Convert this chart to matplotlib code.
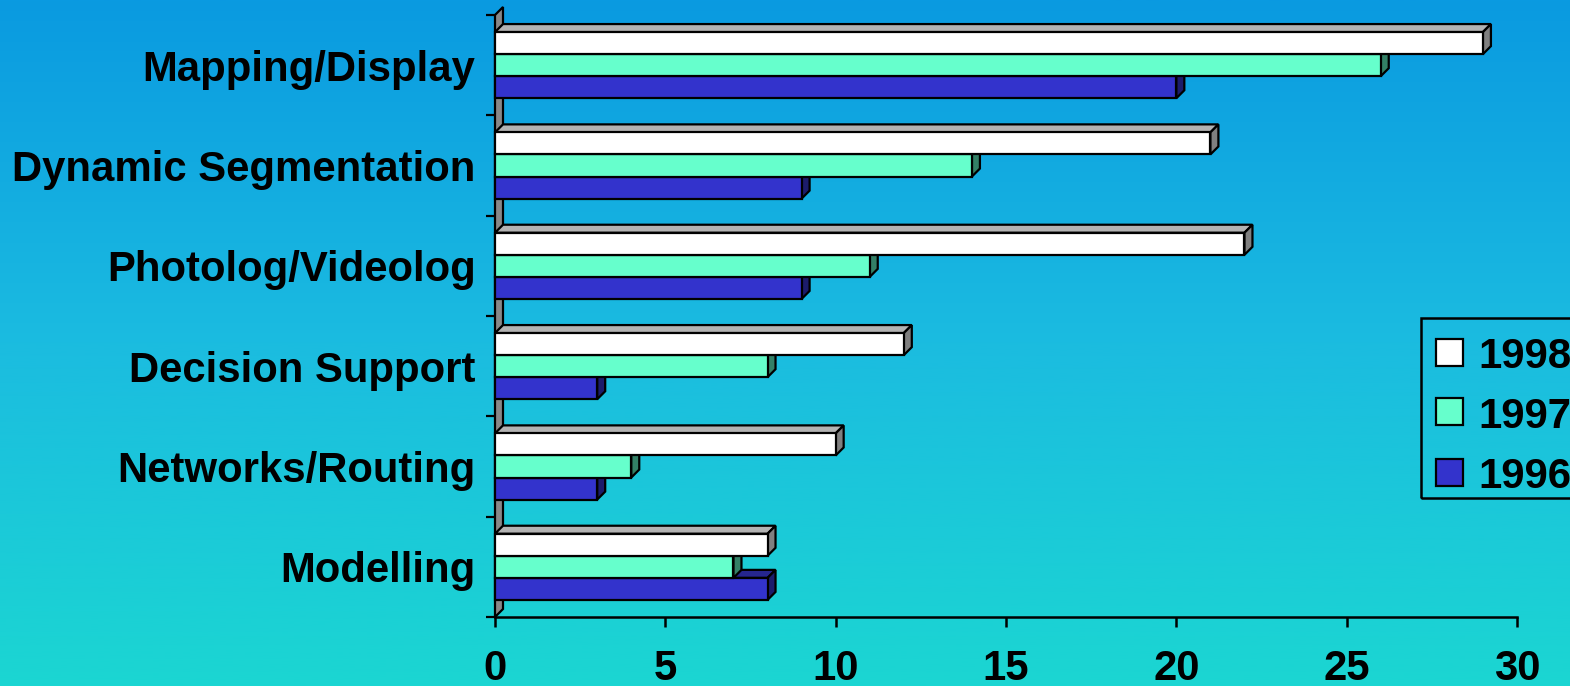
import numpy as np
import matplotlib
matplotlib.use('Agg')
import matplotlib.pyplot as plt
from matplotlib.patches import Polygon, Rectangle
from matplotlib.colors import LinearSegmentedColormap

categories = ['Mapping/Display', 'Dynamic Segmentation', 'Photolog/Videolog',
              'Decision Support', 'Networks/Routing', 'Modelling']
years = ['1998', '1997', '1996']
v1998 = [29, 21, 22, 12, 10, 8]
v1997 = [26, 14, 11, 8, 4, 7]
v1996 = [20, 9, 9, 3, 3, 8]
xticks = [0, 5, 10, 15, 20, 25, 30]

series = [v1998, v1997, v1996]
front = ['#ffffff', '#66ffcc', '#3333cc']
top_face = ['#b3b3b3', '#47b38f', '#26268f']
side_face = ['#808080', '#338066', '#1c1c6b']

plt.rcParams['font.family'] = ['Liberation Sans', 'DejaVu Sans']
plt.rcParams['font.weight'] = 'bold'
FS = 30.2
LW = 1.6

W, H = 1570, 686
fig = plt.figure(figsize=(W / 100, H / 100), dpi=100)


def fx(px):
    return px / W


def fy(py):
    return 1 - py / H


# blue -> teal background
bg = fig.add_axes([0, 0, 1, 1], zorder=-10)
cmap = LinearSegmentedColormap.from_list('bg', ['#0a9ae1', '#1bbce0', '#1bd6d2'])
bg.imshow(np.linspace(0, 1, 256).reshape(-1, 1), aspect='auto', cmap=cmap,
          extent=[0, 1, 0, 1])
bg.axis('off')

x0, x1, y0, y1 = 495, 1517, 15, 617
ax = fig.add_axes([fx(x0), fy(y1), (x1 - x0) / W, (y1 - y0) / H])
ax.set_facecolor('none')
n = len(categories)
ax.set_xlim(0, 30)
ax.set_ylim(-0.5, n - 0.5)

# 3d depth, 8 px each way, in data units
dx = 8 * 30 / (x1 - x0)
dy = 8 * n / (y1 - y0)

# side wall
wall = Polygon([(0, -0.5), (dx, -0.5 + dy), (dx, n - 0.5 + dy), (0, n - 0.5)],
               closed=True, facecolor='#888888', edgecolor='black', lw=LW,
               zorder=1, clip_on=False)
ax.add_patch(wall)

h = 0.22
centers = np.arange(n)[::-1]
# draw bottom bar of each group first so the bar above hides its top face
for s in [2, 1, 0]:
    ys = centers + (1 - s) * h
    vals = series[s]
    z = 3 + (2 - s)
    for yc, v in zip(ys, vals):
        yt = yc + h / 2
        yb = yc - h / 2
        ax.add_patch(Polygon([(0, yt), (v, yt), (v + dx, yt + dy), (dx, yt + dy)],
                             closed=True, facecolor=top_face[s], edgecolor='black',
                             lw=LW, zorder=z - 0.5, clip_on=False))
        ax.add_patch(Polygon([(v, yb), (v + dx, yb + dy), (v + dx, yt + dy), (v, yt)],
                             closed=True, facecolor=side_face[s], edgecolor='black',
                             lw=LW, zorder=z - 0.5, clip_on=False))
    ax.barh(ys, vals, height=h, color=front[s], edgecolor='black', lw=LW,
            zorder=z, clip_on=False)

for sp in ['left', 'top', 'right']:
    ax.spines[sp].set_visible(False)
ax.spines['bottom'].set_linewidth(1.8)
ax.spines['bottom'].set_zorder(10)

ax.set_yticks(np.arange(-0.5, n, 1.0))
ax.set_yticklabels([])
ax.tick_params(axis='y', which='major', direction='out', length=6.5, width=1.6)
ax.set_yticks(centers, minor=True)
ax.set_yticklabels(categories, minor=True, fontsize=FS, fontweight='bold')
ax.tick_params(axis='y', which='minor', length=0, pad=14)

ax.set_xticks(xticks)
ax.set_xticklabels([str(t) for t in xticks], fontsize=FS, fontweight='bold')
ax.tick_params(axis='x', direction='out', length=7, width=1.8, pad=16)

# legend box, running off the right edge of the figure
fig.patches.append(Rectangle((fx(1421), fy(498)), fx(200), 180 / H, transform=fig.transFigure,
                             facecolor='none', edgecolor='black', lw=1.8))
for i, (yr, col) in enumerate(zip(years, front)):
    yc = 352 + 60 * i
    fig.patches.append(Rectangle((fx(1436), fy(yc + 13.5)), 27 / W, 27 / H,
                                 transform=fig.transFigure, facecolor=col,
                                 edgecolor='black', lw=LW))
    fig.text(fx(1478), fy(yc + 15.5), yr, fontsize=FS, fontweight='bold',
             ha='left', va='baseline')

fig.savefig('out.png', dpi=100)
